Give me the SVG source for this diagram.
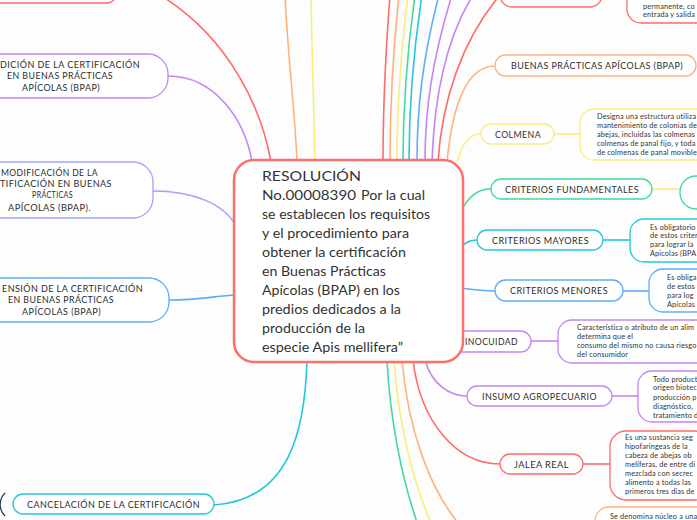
<svg xmlns="http://www.w3.org/2000/svg" width="697" height="520" viewBox="0 0 697 520">
<style>
.c{fill:none;stroke-width:1.6}
.n{fill:#ffffff;stroke-width:1.3}
.red{stroke:#ff6b6b}.org{stroke:#ffb27e}.yel{stroke:#f8ee7c}.grn{stroke:#40da9f}.cyn{stroke:#22c7da}.blu{stroke:#5caefb}.pur{stroke:#c486f2}.lav{stroke:#a3a3fb}
.lb{font-family:Lato,"Liberation Sans",sans-serif;font-size:8.6px;fill:#2d2d2d;letter-spacing:0.4px}
.sm{font-family:Lato,"Liberation Sans",sans-serif;font-size:7.3px;fill:#333333;letter-spacing:0.15px}
.mt{font-family:Lato,"Liberation Sans",sans-serif;font-size:13px;fill:#333333}
</style>
<rect width="697" height="520" fill="#fdfdfd"/>
<g id="connectors">
<path class="c red" d="M 160 -5 C 230 38, 262 110, 271 162"/>
<path class="c pur" d="M 168 76 C 215 76, 245 120, 252 162"/>
<path class="c lav" d="M 153 191 C 195 191, 225 205, 236 226"/>
<path class="c blu" d="M 169 300 C 200 300, 215 296, 236 295"/>
<path class="c cyn" d="M 214 505 C 290 500, 305 430, 307 360"/>
<path class="c org" d="M 285 -5 C 288 60, 295 110, 297 162"/>
<path class="c yel" d="M 311 -5 C 312 60, 314 110, 315 162"/>
<path class="c red" d="M 390 -5 C 385 60, 383 110, 383 162"/>
<path class="c org" d="M 399 -5 C 392 60, 390 110, 390 162"/>
<path class="c yel" d="M 408 -5 C 400 60, 397 110, 397 162"/>
<path class="c grn" d="M 415 -5 C 406 60, 403 110, 403 162"/>
<path class="c cyn" d="M 422 -5 C 412 60, 409 110, 409 162"/>
<path class="c blu" d="M 439 -5 C 422 60, 417 110, 417 162"/>
<path class="c pur" d="M 452 -5 C 432 60, 425 110, 425 162"/>
<path class="c pur" d="M 473 -5 C 445 40, 434 100, 432 162"/>
<path class="c red" d="M 500 -5 C 462 40, 442 100, 438 162"/>
<path class="c org" d="M 447 162 C 452 110, 465 66, 495 66"/>
<path class="c yel" d="M 457 162 C 462 145, 468 134, 481 134"/>
<path class="c grn" d="M 460 212 C 470 195, 478 189, 491 189"/>
<path class="c cyn" d="M 460 248 C 466 242, 470 240, 477 240"/>
<path class="c blu" d="M 460 288 C 475 290, 485 291, 495 291"/>
<path class="c pur" d="M 425 360 C 432 385, 450 396, 467 396"/>
<path class="c red" d="M 413 360 C 420 420, 455 464, 500 464"/>
<path class="c grn" d="M 387 360 C 390 420, 402 480, 418 525"/>
<path class="c yel" d="M 394 360 C 398 420, 412 480, 432 525"/>
<path class="c org" d="M 402 360 C 408 430, 430 490, 460 525"/>
<path class="c yel" d="M 554 134 H 580"/>
<path class="c yel" d="M 652 189 H 680"/>
<path class="c cyn" d="M 603 240 H 630"/>
<path class="c blu" d="M 623 291 H 649"/>
<path class="c pur" d="M 531 341 H 558"/>
<path class="c pur" d="M 612 396 H 638"/>
<path class="c red" d="M 583 464 H 610"/>
</g>
<g id="node-top-left">
<rect class="n red" x="-20" y="-30" width="138" height="33" rx="12"/>
</g>
<g id="node-expedicion">
<rect class="n pur" x="-30" y="54" width="198" height="44" rx="20"/>
<text class="lb" x="0" y="68" textLength="140" lengthAdjust="spacingAndGlyphs">DICIÓN DE LA CERTIFICACIÓN</text>
<text class="lb" x="7" y="79" textLength="106" lengthAdjust="spacingAndGlyphs">EN BUENAS PRÁCTICAS</text>
<text class="lb" x="22" y="91" textLength="78" lengthAdjust="spacingAndGlyphs">APÍCOLAS (BPAP)</text>
</g>
<g id="node-modificacion">
<rect class="n lav" x="-30" y="162" width="183" height="56" rx="20"/>
<text class="lb" x="1" y="176" textLength="97" lengthAdjust="spacingAndGlyphs">MODIFICACIÓN DE LA</text>
<text class="lb" x="0" y="187" textLength="112" lengthAdjust="spacingAndGlyphs">TIFICACIÓN EN BUENAS</text>
<text class="lb" x="32" y="198" textLength="41" lengthAdjust="spacingAndGlyphs">PRÁCTICAS</text>
<text class="lb" x="8" y="211" textLength="83" lengthAdjust="spacingAndGlyphs">APÍCOLAS (BPAP).</text>
</g>
<g id="node-suspension">
<rect class="n blu" x="-30" y="278" width="199" height="44" rx="20"/>
<text class="lb" x="2" y="292" textLength="141" lengthAdjust="spacingAndGlyphs">ENSIÓN DE LA CERTIFICACIÓN</text>
<text class="lb" x="8" y="303" textLength="106" lengthAdjust="spacingAndGlyphs">EN BUENAS PRÁCTICAS</text>
<text class="lb" x="22" y="315" textLength="79" lengthAdjust="spacingAndGlyphs">APÍCOLAS (BPAP)</text>
</g>
<g id="node-cancelacion">
<path d="M 5 493 A 16 16 0 0 0 5 516" fill="none" stroke="#1f3a5a" stroke-width="1.3"/>
<rect class="n cyn" x="13" y="494" width="201" height="20" rx="10"/>
<text class="lb" x="27" y="507.5" textLength="173" lengthAdjust="spacingAndGlyphs">CANCELACIÓN DE LA CERTIFICACIÓN</text>
</g>
<g id="node-inocuidad">
<rect class="n pur" x="440" y="331" width="91" height="21" rx="10.5"/>
<text class="lb" x="465" y="344.5" textLength="53" lengthAdjust="spacingAndGlyphs">INOCUIDAD</text>
</g>
<g id="node-central">
<rect x="234" y="160" width="229" height="202" rx="20" fill="#ffffff" stroke="#ff6f69" stroke-width="2.5"/>
<text class="mt" x="262" y="181" font-size="14.5" textLength="99" lengthAdjust="spacingAndGlyphs">RESOLUCIÓN</text>
<text class="mt" x="262" y="200" font-size="14.5" textLength="94" lengthAdjust="spacingAndGlyphs">No.00008390</text>
<text class="mt" x="361" y="200" textLength="64" lengthAdjust="spacingAndGlyphs">Por la cual</text>
<text class="mt" x="262" y="219" textLength="168" lengthAdjust="spacingAndGlyphs">se establecen los requisitos</text>
<text class="mt" x="262" y="238" textLength="147" lengthAdjust="spacingAndGlyphs">y el procedimiento para</text>
<text class="mt" x="262" y="257" textLength="144" lengthAdjust="spacingAndGlyphs">obtener la certificación</text>
<text class="mt" x="262" y="276" textLength="124" lengthAdjust="spacingAndGlyphs">en Buenas Prácticas</text>
<text class="mt" x="262" y="295" textLength="138" lengthAdjust="spacingAndGlyphs">Apícolas (BPAP) en los</text>
<text class="mt" x="262" y="314" textLength="139" lengthAdjust="spacingAndGlyphs">predios dedicados a la</text>
<text class="mt" x="262" y="333" textLength="103" lengthAdjust="spacingAndGlyphs">producción de la</text>
<text class="mt" x="262" y="352" textLength="141" lengthAdjust="spacingAndGlyphs">especie Apis mellifera”</text>
</g>
<g id="node-top-right">
<rect class="n red" x="500" y="-20" width="102" height="27" rx="12"/>
</g>
<g id="note-top-right">
<rect class="n red" x="627" y="-40" width="100" height="63" rx="14"/>
<text class="sm" x="643" y="9">permanente, co</text>
<text class="sm" x="643" y="17">entrada y salida</text>
</g>
<g id="node-bpap">
<rect class="n org" x="495" y="55" width="201" height="21" rx="10.5"/>
<text class="lb" x="511" y="69" textLength="172" lengthAdjust="spacingAndGlyphs">BUENAS PRÁCTICAS APÍCOLAS (BPAP)</text>
</g>
<g id="node-colmena">
<rect class="n yel" x="481" y="124" width="73" height="20" rx="10"/>
<text class="lb" x="495" y="137.5" textLength="46" lengthAdjust="spacingAndGlyphs">COLMENA</text>
</g>
<g id="note-colmena">
<rect class="n yel" x="580" y="109" width="140" height="51" rx="14"/>
<text class="sm" x="597" y="119">Designa una estructura utiliza</text>
<text class="sm" x="597" y="128">mantenimiento de colonias de</text>
<text class="sm" x="597" y="137">abejas, incluidas las colmenas</text>
<text class="sm" x="597" y="146">colmenas de panal fijo, y toda</text>
<text class="sm" x="597" y="155">de colmenas de panal movible</text>
</g>
<g id="node-fundamentales">
<rect class="n grn" x="491" y="179" width="161" height="20" rx="10"/>
<text class="lb" x="505" y="192.5" textLength="134" lengthAdjust="spacingAndGlyphs">CRITERIOS FUNDAMENTALES</text>
</g>
<g id="note-fundamentales">
<rect class="n grn" x="680" y="176" width="60" height="33" rx="16"/>
</g>
<g id="node-mayores">
<rect class="n cyn" x="477" y="230" width="126" height="20" rx="10"/>
<text class="lb" x="492" y="243.5" textLength="97" lengthAdjust="spacingAndGlyphs">CRITERIOS MAYORES</text>
</g>
<g id="note-mayores">
<rect class="n cyn" x="630" y="219" width="90" height="43" rx="14"/>
<text class="sm" x="650" y="229.5">Es obligatorio</text>
<text class="sm" x="650" y="238">de estos criter</text>
<text class="sm" x="650" y="246.5">para lograr la</text>
<text class="sm" x="650" y="255.5">Apícolas (BPA</text>
</g>
<g id="node-menores">
<rect class="n blu" x="495" y="280" width="128" height="21" rx="10.5"/>
<text class="lb" x="510" y="294" textLength="98" lengthAdjust="spacingAndGlyphs">CRITERIOS MENORES</text>
</g>
<g id="note-menores">
<rect class="n blu" x="649" y="269" width="80" height="43" rx="14"/>
<text class="sm" x="667" y="280">Es obliga</text>
<text class="sm" x="667" y="289">de estos</text>
<text class="sm" x="667" y="298">para log</text>
<text class="sm" x="667" y="307">Apícolas</text>
</g>
<g id="note-inocuidad">
<rect class="n pur" x="558" y="320" width="160" height="43" rx="14"/>
<text class="sm" x="577" y="329.5">Característica o atributo de un alim</text>
<text class="sm" x="577" y="338.5">determina que el</text>
<text class="sm" x="577" y="347.5">consumo del mismo no causa riesgo</text>
<text class="sm" x="577" y="356.5">del consumidor</text>
</g>
<g id="node-insumo">
<rect class="n pur" x="467" y="386" width="145" height="20" rx="10"/>
<text class="lb" x="482" y="399.5" textLength="115" lengthAdjust="spacingAndGlyphs">INSUMO AGROPECUARIO</text>
</g>
<g id="note-insumo">
<rect class="n pur" x="638" y="371" width="80" height="51" rx="14"/>
<text class="sm" x="653" y="381.5">Todo product</text>
<text class="sm" x="653" y="390">origen biotec</text>
<text class="sm" x="653" y="399.5">producción p</text>
<text class="sm" x="653" y="408.5">diagnóstico,</text>
<text class="sm" x="653" y="417.5">tratamiento d</text>
</g>
<g id="node-jalea">
<rect class="n red" x="500" y="454" width="83" height="20" rx="10"/>
<text class="lb" x="514" y="467.5" textLength="55" lengthAdjust="spacingAndGlyphs">JALEA REAL</text>
</g>
<g id="note-jalea">
<rect class="n red" x="610" y="431" width="100" height="69" rx="16"/>
<text class="sm" x="625" y="439.5">Es una sustancia seg</text>
<text class="sm" x="625" y="448.5">hipofaringeas de la</text>
<text class="sm" x="625" y="457.5">cabeza de abejas ob</text>
<text class="sm" x="625" y="466.5">melíferas, de entre di</text>
<text class="sm" x="625" y="475.5">mezclada con secrec</text>
<text class="sm" x="625" y="484.5">alimento a todas las</text>
<text class="sm" x="625" y="493.5">primeros tres días de</text>
</g>
<g id="note-nucleo">
<rect class="n org" x="595" y="507" width="120" height="30" rx="14"/>
<text class="sm" x="610" y="518.5">Se denomina núcleo a una</text>
</g>
</svg>
